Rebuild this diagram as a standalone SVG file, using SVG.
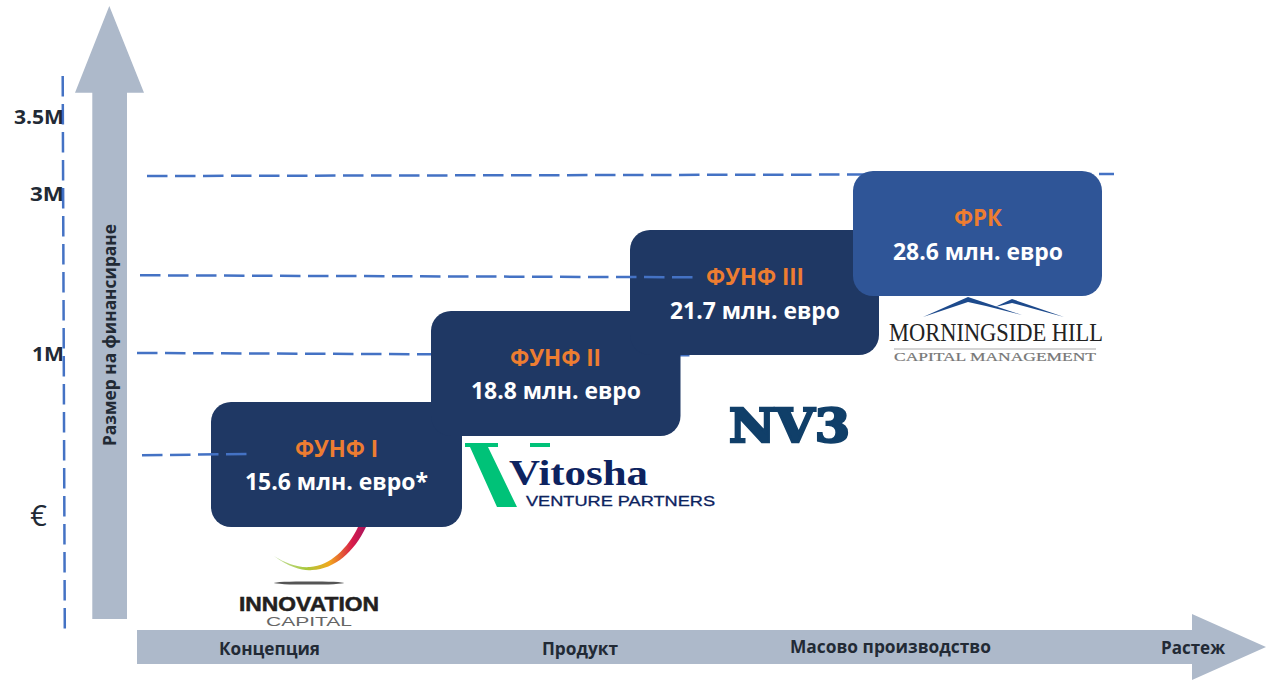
<svg xmlns="http://www.w3.org/2000/svg" width="1266" height="682" viewBox="0 0 1266 682">
<defs>
<linearGradient id="swoosh" x1="0" y1="0" x2="1" y2="0">
<stop offset="0" stop-color="#c5e0a5"/><stop offset="0.35" stop-color="#a8c83c"/><stop offset="0.6" stop-color="#f2a81d"/><stop offset="0.85" stop-color="#d81b4a"/><stop offset="1" stop-color="#a8155f"/>
</linearGradient>
</defs>
<style>
.t{font-family:"Open Sans","Noto Sans",sans-serif;font-weight:700;text-anchor:middle}
.axis{fill:#adb9ca}
.dash{fill:none;stroke:#4472c4;stroke-width:2.500;stroke-dasharray:20.5 7.5}
.lab{font-size:17px;fill:#222a35}
.tick{font-size:20px;fill:#222a35}
.name{font-size:22.5px;fill:#ed7d31}
.val{font-size:22.5px;fill:#fff}
.dark{fill:#1f3864}
.serif{font-family:"Liberation Serif",serif}
.sans{font-family:"Liberation Sans",sans-serif}
</style>
<g id="axes">
<path class="axis" d="M109.300 6L144 92.700H127V619H92.300V92.700H75Z"/>
<path class="axis" d="M137 630H1192V614L1266 647L1192 680V664H137Z"/>
</g>
<g id="connectors-back">
<path class="dash" d="M62.700 76L64.800 631"/>
<path class="dash" d="M147 176L1114 174"/>
<path class="dash" d="M137 353L690 355.300"/>
</g>
<g id="fund1"><rect class="dark" x="211" y="402" width="251" height="125" rx="20"/></g>
<g id="fund2"><rect class="dark" x="431" y="311" width="249.500" height="125" rx="20"/></g>
<g id="fund3"><rect class="dark" x="630" y="230" width="249" height="125" rx="20"/></g>
<g id="frk"><rect x="853" y="171" width="249" height="125" rx="20" fill="#2f5597"/></g>
<g id="connectors">
<path class="dash" d="M140 275.300L693 277.300"/>
<path class="dash" d="M142 455.300L247 454"/>
</g>
<g id="labels">
<text class="t name" x="336.500" y="457" textLength="83" lengthAdjust="spacingAndGlyphs">ФУНФ I</text>
<text class="t val" x="336.500" y="490" textLength="183" lengthAdjust="spacingAndGlyphs">15.6 млн. евро*</text>
<text class="t name" x="555.500" y="366" textLength="91" lengthAdjust="spacingAndGlyphs">ФУНФ II</text>
<text class="t val" x="556" y="399" textLength="170" lengthAdjust="spacingAndGlyphs">18.8 млн. евро</text>
<text class="t name" x="755" y="285" textLength="98" lengthAdjust="spacingAndGlyphs">ФУНФ III</text>
<text class="t val" x="755" y="319" textLength="170" lengthAdjust="spacingAndGlyphs">21.7 млн. евро</text>
<text class="t name" x="978" y="226" textLength="48" lengthAdjust="spacingAndGlyphs">ФРК</text>
<text class="t val" x="978" y="259.500" textLength="170" lengthAdjust="spacingAndGlyphs">28.6 млн. евро</text>
<text class="t tick" x="39" y="124" textLength="50" lengthAdjust="spacingAndGlyphs">3.5M</text>
<text class="t tick" x="47" y="201" textLength="34" lengthAdjust="spacingAndGlyphs">3M</text>
<text class="t tick" x="48" y="361" textLength="32" lengthAdjust="spacingAndGlyphs">1M</text>
<text class="t" x="38.500" y="526" style="font-size:29px;font-weight:400;fill:#222a35">€</text>
<text class="t lab" transform="translate(116 335) rotate(-90)" textLength="222" lengthAdjust="spacingAndGlyphs">Размер на финансиране</text>
<text class="t lab" x="269.500" y="655" textLength="101" lengthAdjust="spacingAndGlyphs">Концепция</text>
<text class="t lab" x="580" y="655" textLength="76" lengthAdjust="spacingAndGlyphs">Продукт</text>
<text class="t lab" x="890.500" y="653" textLength="201" lengthAdjust="spacingAndGlyphs">Масово производство</text>
<text class="t lab" x="1193" y="654" textLength="64" lengthAdjust="spacingAndGlyphs">Растеж</text>
</g>
<g id="logo-innovation">
<path d="M274 556C290 568 304 571 312 570C335 569 354 552 366 527L358 527C348 548 330 566 310 567C298 568 285 563 274 556Z" fill="url(#swoosh)"/>
<ellipse cx="309" cy="583" rx="35" ry="1.600" fill="#555"/>
<text class="sans" x="239" y="611" style="font-size:19.500px;font-weight:700;fill:#231f20;stroke:#231f20;stroke-width:.5" textLength="140" lengthAdjust="spacingAndGlyphs">INNOVATION</text>
<text class="sans" x="266" y="626" style="font-size:12px;fill:#666" textLength="86" lengthAdjust="spacingAndGlyphs">CAPITAL</text>
</g>
<g id="logo-vitosha">
<path d="M465 443H498V447H488L517 507H497L470 447H465Z" fill="#00c278"/>
<rect x="530" y="443" width="20" height="4" fill="#00c278"/>
<text class="serif" x="509" y="485" style="font-size:36px;font-weight:700;fill:#0d2360" textLength="139" lengthAdjust="spacingAndGlyphs">Vitosha</text>
<text class="sans" x="526" y="506" style="font-size:14px;font-weight:400;fill:#0d2360;stroke:#0d2360;stroke-width:.3" textLength="189" lengthAdjust="spacingAndGlyphs">VENTURE PARTNERS</text>
</g>
<g id="logo-nv3">
<text x="729" y="441.500" style="font-family:'DejaVu Serif',serif;font-size:47px;font-weight:700;fill:#103f69;stroke:#103f69;stroke-width:2.500" textLength="121" lengthAdjust="spacingAndGlyphs">NV3</text>
</g>
<g id="logo-morningside">
<path d="M923 317L968 297L1022 315L986 306L968 302Z" fill="#1d4a8c"/>
<path d="M995 307L1012 299L1064 317L1012 303Z" fill="#1d4a8c"/>
<text class="serif" x="889" y="341" style="font-size:25.500px;fill:#222" textLength="214" lengthAdjust="spacingAndGlyphs">MORNINGSIDE HILL</text>
<rect x="894" y="348.500" width="202" height="1" fill="#aaa"/>
<text class="serif" x="894" y="361" style="font-size:12px;fill:#777;stroke:#777;stroke-width:.2" textLength="202" lengthAdjust="spacingAndGlyphs">CAPITAL MANAGEMENT</text>
</g>
</svg>
